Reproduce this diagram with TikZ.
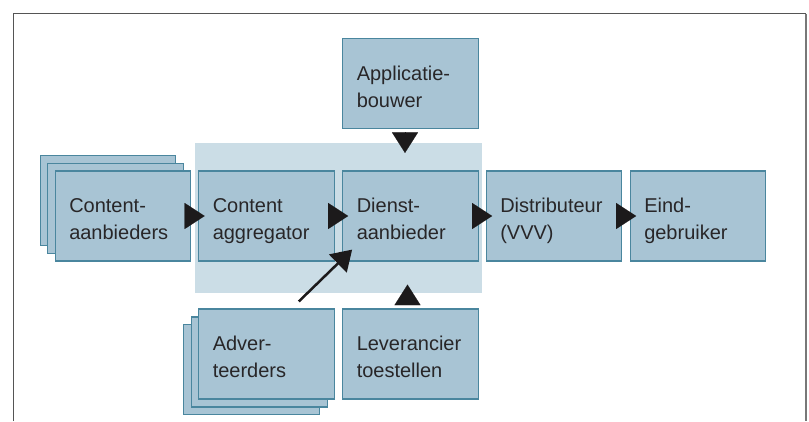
\documentclass[tikz,border=0pt]{standalone}
\usepackage{fontspec}
\setmainfont{Liberation Sans}
\usetikzlibrary{arrows.meta}

\definecolor{boxfill}{RGB}{168,196,212}
\definecolor{boxline}{RGB}{74,134,158}
\definecolor{platformfill}{RGB}{203,221,230}
\definecolor{labeltext}{RGB}{40,38,40}
\definecolor{tipcolor}{RGB}{28,26,27}
\definecolor{framegray}{RGB}{85,85,85}
\definecolor{framegraylight}{RGB}{120,120,120}

\begin{document}
\begin{tikzpicture}[x=1pt,y=-1pt,
  actor/.style={draw=boxline, line width=1.2pt, fill=boxfill,
    minimum width=135.5pt, minimum height=90pt,
    inner xsep=14pt, inner ysep=0pt, text width=107.5pt, align=left,
    text height=15pt, text depth=22pt,
    font=\fontsize{20}{27}\selectfont, text=labeltext},
  shadowbox/.style={draw=boxline, line width=1.2pt, fill=boxfill,
    minimum width=135.5pt, minimum height=90pt, inner sep=0pt},
  platform/.style={fill=platformfill, minimum width=287pt,
    minimum height=150pt, inner sep=0pt},
  flowtip/.style={draw=tipcolor, line width=0.1pt,
    -{Triangle[length=20pt,width=26pt]}},
  vtip/.style={draw=tipcolor, line width=0.1pt,
    -{Triangle[length=20.5pt,width=26pt]}},
  slanted/.style={draw=tipcolor, line width=2.5pt,
    -{Triangle[length=20pt,width=25pt]}}
]
\useasboundingbox (0,0) rectangle (809,421);

% open frame
\draw[framegray, line width=1pt] (13.5,421) -- (13.5,13.5) -- (805.5,13.5);
\draw[framegraylight, line width=2pt] (805.5,13.5) -- (805.5,421);

% shaded platform behind aggregator and service provider
\node[platform] (platform) at (338.5,218) {};

% top
\node[actor] (app) at (410.5,83.5) {Applicatie-\\bouwer};

% content providers (stacked)
\node[shadowbox] (ca3) at (108,200.5) {};
\node[shadowbox] (ca2) at (115.5,208.5) {};
\node[actor] (ca) at (123,216) {Content-\\aanbieders};

% main chain
\node[actor] (agg) at (266.5,216) {Content\\aggregator};
\node[actor] (dienst) at (410.5,216) {Dienst-\\aanbieder};
\node[actor] (distr) at (554,216) {Distributeur\\(VVV)};
\node[actor] (eind) at (698,216) {Eind-\\gebruiker};

% advertisers (stacked)
\node[shadowbox] (adv3) at (251.5,369.5) {};
\node[shadowbox] (adv2) at (259.5,362) {};
\node[actor] (adv) at (266.5,354) {Adver-\\teerders};

\node[actor] (lev) at (410.5,354) {Leverancier\\toestellen};

% flow arrows
\draw[flowtip] ([xshift=-6pt]ca.east) -- ([xshift=6.5pt]agg.west);
\draw[flowtip] ([xshift=-5pt]agg.east) -- ([xshift=6pt]dienst.west);
\draw[flowtip] ([xshift=-5.5pt]dienst.east) -- ([xshift=6.5pt]distr.west);
\draw[flowtip] ([xshift=-6pt]distr.east) -- ([xshift=6.5pt]eind.west);

\draw[vtip] ([shift={(-5.5,4)}]app.south) -- ([shift={(-5.5,-17.5)}]dienst.north);
\draw[vtip] ([shift={(-3,-5)}]lev.north) -- ([shift={(-3,23)}]dienst.south);

\draw[slanted] ([shift={(-36,-7)}]adv.north east) -- ([shift={(10,-12)}]dienst.south west);
\end{tikzpicture}
\end{document}
